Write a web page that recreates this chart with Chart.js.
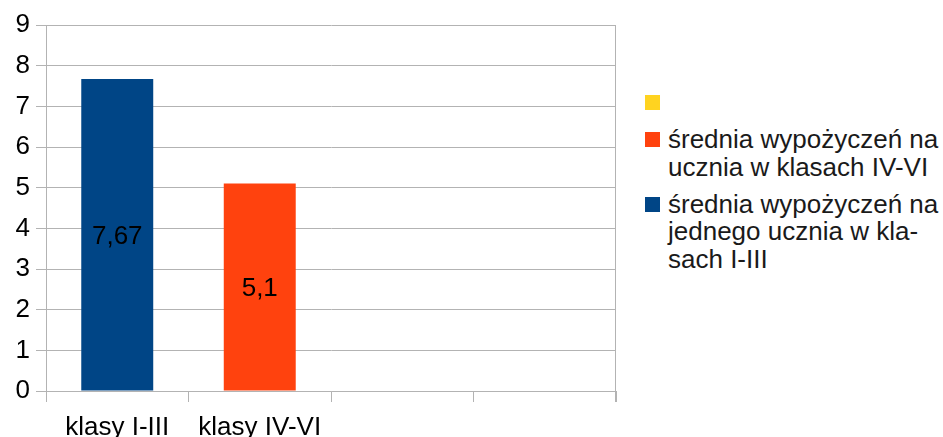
<!DOCTYPE html>
<html>
<head>
<meta charset="utf-8">
<script src="https://cdn.jsdelivr.net/npm/chart.js@4/dist/chart.umd.min.js"></script>
<style>
  body { margin: 0; background: #fff; font-family: "Liberation Sans", Arial, sans-serif; }
  #wrap { position: relative; width: 943px; height: 437px; overflow: hidden; }
  #box { position: absolute; left: 0; top: 0; width: 624px; height: 437px; }
  #legend { position: absolute; left: 645px; top: 89px; font-size: 26px; color: #1a1a1a; line-height: 27.5px; white-space: nowrap; }
  .item { position: relative; padding-left: 23px; margin-bottom: 9.5px; min-height: 27.5px; }
  .sw { position: absolute; left: 0; top: 6px; width: 15px; height: 15px; }
</style>
</head>
<body>
<div id="wrap">
  <div id="box"><canvas id="chart"></canvas></div>
  <div id="legend"></div>
</div>
<script>
const categories = ["klasy I-III", "klasy IV-VI", "", ""];
const yTicks = [0, 1, 2, 3, 4, 5, 6, 7, 8, 9];

const seriesNames = [
  [""],
  ["średnia wypożyczeń na", "ucznia w klasach IV-VI"],
  ["średnia wypożyczeń na", "jednego ucznia w kla-", "sach I-III"]
];
const seriesColors = ["#ffd320", "#ff420e", "#004586"];

const yellowValues = [null, null, null, null];
const orangeValues = [null, 5.1, null, null];
const blueValues = [7.67, null, null, null];

const seriesValues = [yellowValues, orangeValues, blueValues];

const FONT = "'Liberation Sans', Arial, sans-serif";

// value labels in the middle of each bar, decimal comma
const valueLabels = {
  id: "valueLabels",
  afterDatasetsDraw(chart) {
    const ctx = chart.ctx;
    ctx.save();
    ctx.font = "26px " + FONT;
    ctx.fillStyle = "#000";
    ctx.textAlign = "center";
    ctx.textBaseline = "middle";
    chart.data.datasets.forEach((ds, i) => {
      chart.getDatasetMeta(i).data.forEach((bar, j) => {
        const v = ds.data[j];
        if (v == null) return;
        ctx.fillText(String(v).replace(".", ","), bar.x, (bar.y + bar.base) / 2 + 2);
      });
    });
    ctx.restore();
  }
};

// right edge line of the plot area
const rightEdge = {
  id: "rightEdge",
  afterDraw(chart) {
    const a = chart.chartArea;
    const ctx = chart.ctx;
    ctx.save();
    ctx.strokeStyle = "#b3b3b3";
    ctx.lineWidth = 1;
    ctx.beginPath();
    ctx.moveTo(Math.round(a.right) - 0.5, a.top);
    ctx.lineTo(Math.round(a.right) - 0.5, a.bottom + 11);
    ctx.stroke();
    ctx.restore();
  }
};

new Chart(document.getElementById("chart"), {
  type: "bar",
  data: {
    labels: categories,
    datasets: seriesValues.map((vals, i) => ({
      label: seriesNames[i].join(" "),
      data: vals,
      backgroundColor: seriesColors[i],
      categoryPercentage: 1,
      barPercentage: 0.505
    }))
  },
  options: {
    responsive: true,
    maintainAspectRatio: false,
    animation: false,
    layout: { padding: { top: 25, right: 8, left: 0, bottom: 0 } },
    plugins: { legend: { display: false }, tooltip: { enabled: false } },
    scales: {
      x: {
        stacked: true,
        afterFit: (axis) => { axis.height = 46; },
        grid: { offset: true, drawOnChartArea: false, color: "#b3b3b3", tickLength: 11 },
        border: { color: "#b3b3b3" },
        ticks: { color: "#000", font: { size: 26, family: FONT }, padding: 10, maxRotation: 0, autoSkip: false }
      },
      y: {
        stacked: true,
        min: 0,
        max: 9,
        afterFit: (axis) => { axis.width = 46; },
        afterBuildTicks: (axis) => { axis.ticks = yTicks.map(v => ({ value: v })); },
        grid: { color: "#b3b3b3", tickLength: 10 },
        border: { color: "#b3b3b3" },
        ticks: { color: "#000", font: { size: 26, family: FONT }, padding: 6 }
      }
    }
  },
  plugins: [valueLabels, rightEdge]
});

// legend built from the series names and colours
const legend = document.getElementById("legend");
seriesNames.forEach((lines, i) => {
  const item = document.createElement("div");
  item.className = "item";
  const sw = document.createElement("span");
  sw.className = "sw";
  sw.style.background = seriesColors[i];
  item.appendChild(sw);
  lines.forEach((t, k) => {
    if (k > 0) item.appendChild(document.createElement("br"));
    item.appendChild(document.createTextNode(t));
  });
  legend.appendChild(item);
});
</script>
</body>
</html>
